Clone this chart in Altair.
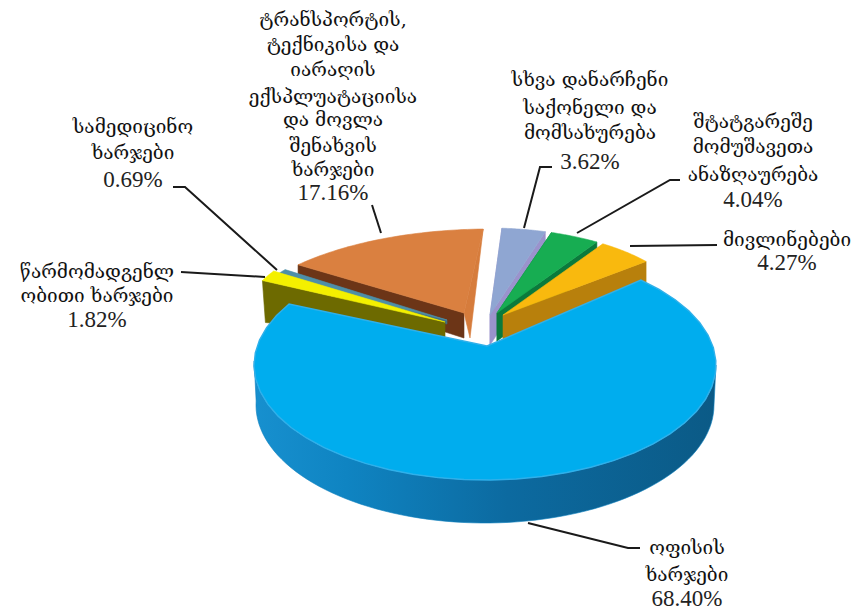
import math
import altair as alt
import pandas as pd

# ---- data
names = ["სხვა დანარჩენი საქონელი და მომსახურება", "შტატგარეშე მომუშავეთა ანაზღაურება", "მივლინებები",
         "ოფისის ხარჯები", "წარმომადგენლობითი ხარჯები", "სამედიცინო ხარჯები",
         "ტრანსპორტის, ტექნიკისა და იარაღის ექსპლუატაციისა და მოვლა შენახვის ხარჯები"]
shares = [3.62, 4.04, 4.27, 68.40, 1.82, 0.69, 17.16]
top_colors = ["#8FA6D2", "#17AD52", "#F9B90E", "#00ADEE", "#F4F000", "#4D8FA8", "#DA8040"]
wall_colors = ["#9A93CC", "#0B7A3C", "#B8800C", "#0E80BE", "#6D6A00", "#3F6F85", "#6C3517"]
# view tweaks for the 3-D perspective (degrees at each slice's start, end)
edge_shift = [(0.4, -0.3), (1.5, 1.0), (3.0, 4.0), (-4.0, 9.3), (0, 0), (0, 3.0), (10.7, -5.0)]
# ellipse centre x, centre y, rx, ry for each exploded slice
ellipses = [(488, 320, 205, 92)] * 3 + [(485, 365, 231, 115), (470, 316, 225, 92), (470, 322, 225, 92),
                                        (490, 339, 260, 110)]
apexes = [(490, 315), (497, 313), (503, 315), (487, 346), (445, 322), (447, 320), (464, 313)]
# wall height at the centre and at the rim
depths = [(30, 30), (28, 28), (26, 30), (42, 42), (18, 42), (4, 4), (25, 20)]
ROT = 3.5

labels = [
    (["ტრანსპორტის,", "ტექნიკისა და", "იარაღის", "ექსპლუატაციისა", "და მოვლა", "შენახვის", "ხარჯები"], "17.16%", 333,
     [20, 45, 70, 97, 120, 146, 170], 193),
    (["სამედიცინო", "ხარჯები"], "0.69%", 133, [127, 153], 180),
    (["წარმომადგენლ", "ობითი ხარჯები"], "1.82%", 97, [272, 296], 320),
    (["სხვა დანარჩენი", "საქონელი და", "მომსახურება"], "3.62%", 590, [80, 108, 133], 162),
    (["შტატგარეშე", "მომუშავეთა", "ანაზღაურება"], "4.04%", 753, [122, 147, 175], 200),
    (["მივლინებები"], "4.27%", 787, [240], 263),
    (["ოფისის", "ხარჯები"], "68.40%", 687, [548, 575], 599),
]
leaders = [
    [(173, 187), (185, 187), (277, 270)],
    [(181, 272), (265, 277)],
    [(372, 205), (381, 233)],
    [(552, 167), (540, 167), (524, 228)],
    [(680, 180), (670, 180), (577, 233)],
    [(717, 245), (630, 246)],
    [(640, 548), (628, 548), (528, 523)],
]

# ---- scales: plot area spans page pixels
X = alt.X("x:Q", scale=alt.Scale(domain=[8, 851]), axis=None)
Y = alt.Y("y:Q", scale=alt.Scale(domain=[612, 8]), axis=None)


def poly(points, fill, stroke=None, sw=0.6):
    df = pd.DataFrame([{"x": p[0], "y": p[1], "i": i} for i, p in enumerate(points)])
    return alt.Chart(df).mark_line(interpolate="linear-closed", fill=fill,
                                   stroke=stroke or (fill if isinstance(fill, str) else "#0E80BE"),
                                   strokeWidth=sw).encode(x=X, y=Y, order="i:Q")


def arc(e, a, b, n=40):
    return [(e[0] + e[2] * math.sin(math.radians(a + (b - a) * k / n)),
             e[1] - e[3] * math.cos(math.radians(a + (b - a) * k / n))) for k in range(n + 1)]


angles = []
c = 0.0
for s, (p, q) in zip(shares, edge_shift):
    angles.append((c * 3.6 + ROT + p, (c + s) * 3.6 + ROT + q))
    c += s

layers = []


def slice_top(i):
    a, b = angles[i]
    return [apexes[i]] + arc(ellipses[i], a, b)


def end_wall(i, which):
    a, b = angles[i]
    r = arc(ellipses[i], a, b)
    rim = r[0] if which == "start" else r[-1]
    ax, ay = apexes[i]
    da, dr = depths[i]
    return [(ax, ay), rim, (rim[0] + (3 if which == "start" and i == 4 else 0), rim[1] + dr), (ax, ay + da)]


# orange (furthest left back)
i = 6
a, b = angles[i]
rim_end = arc(ellipses[i], a, b)[-1]
layers.append(poly(end_wall(i, "start"), wall_colors[i]))
layers.append(poly([rim_end, apexes[i], (apexes[i][0] + 6, apexes[i][1] + 25)], "#D67C3C"))
layers.append(poly(slice_top(i), top_colors[i]))
# teal, yellow
layers.append(poly(end_wall(5, "start"), wall_colors[5]))
layers.append(poly(slice_top(5), top_colors[5]))
layers.append(poly(end_wall(4, "start"), wall_colors[4]))
layers.append(poly(slice_top(4), top_colors[4]))
# right-hand back slices
layers.append(poly(end_wall(0, "start"), wall_colors[0]))
layers.append(poly(end_wall(0, "end"), wall_colors[0]))
layers.append(poly(slice_top(0), top_colors[0]))
layers.append(poly(end_wall(1, "end"), wall_colors[1]))
layers.append(poly(end_wall(1, "start"), wall_colors[1]))
layers.append(poly(slice_top(1), top_colors[1]))
layers.append(poly(end_wall(2, "end"), wall_colors[2]))
layers.append(poly(slice_top(2), top_colors[2]))

# big blue slice: side then top
e = ellipses[3]
side_top = arc(e, 90, 272, 80)
side_bot = arc((e[0], e[1] + 40, e[2] - 2, e[3] + 3), 272, 90, 80)
grad = alt.Gradient(gradient="linear", x1=1, x2=0, y1=0, y2=0,
                    stops=[alt.GradientStop(color="#0B5A86", offset=0),
                           alt.GradientStop(color="#0C6AA0", offset=0.45),
                           alt.GradientStop(color="#0F84C2", offset=0.8),
                           alt.GradientStop(color="#1790CF", offset=1)])
layers.append(poly(side_top + side_bot, grad))
layers.append(poly(slice_top(3), top_colors[3], "#2FB0EA", 1.4))

# leaders
for k, pts in enumerate(leaders):
    df = pd.DataFrame([{"x": p[0], "y": p[1], "i": j} for j, p in enumerate(pts)])
    layers.append(alt.Chart(df).mark_line(color="#1a1a1a", strokeWidth=2).encode(x=X, y=Y, order="i:Q"))

# labels
rows, pct = [], []
for lines, p, cx, ys, py in labels:
    for t, y in zip(lines, ys):
        rows.append({"x": cx, "y": y, "t": t})
    pct.append({"x": cx, "y": py, "t": p})
layers.append(alt.Chart(pd.DataFrame(rows)).mark_text(font="DejaVu Serif", fontSize=19, color="#111", align="center",
                                                      baseline="middle").encode(x=X, y=Y, text="t:N"))
layers.append(alt.Chart(pd.DataFrame(pct)).mark_text(font="Liberation Serif", fontSize=23, color="#222", align="center",
                                                     baseline="middle").encode(x=X, y=Y, text="t:N"))

chart = alt.layer(*layers).properties(width=843, height=604, padding=0, autosize=alt.AutoSizeParams(type="none"),
                                      background="white").configure_view(stroke=None)
chart.save("out.html", embed_options={"renderer": "svg", "actions": False})
